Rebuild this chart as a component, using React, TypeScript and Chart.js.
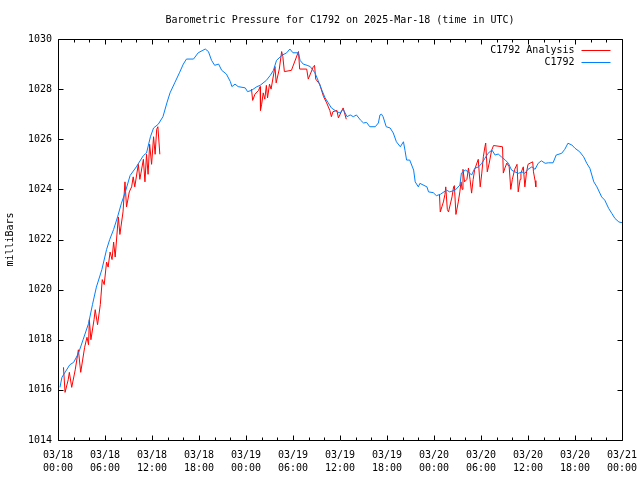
import React, { useEffect, useRef } from "react";
import { Chart, registerables } from "chart.js";

Chart.register(...registerables);

const TITLE = "Barometric Pressure for C1792 on 2025-Mar-18 (time in UTC)";
const Y_AXIS_LABEL = "milliBars";
const SERIES_NAMES = ["C1792 Analysis", "C1792"];
const SERIES_COLORS = ["#ff0000", "#0080ff"];

const X_TICK_DATES = ["03/18", "03/18", "03/18", "03/18", "03/19", "03/19", "03/19", "03/19", "03/20", "03/20", "03/20", "03/20", "03/21"];
const X_TICK_TIMES = ["00:00", "06:00", "12:00", "18:00", "00:00", "06:00", "12:00", "18:00", "00:00", "06:00", "12:00", "18:00", "00:00"];
const Y_TICK_LABELS = ["1014", "1016", "1018", "1020", "1022", "1024", "1026", "1028", "1030"];

// hours since 2025-03-18 00:00 UTC
const stationHours = [
  0.25, 0.5, 1.0, 1.5, 2.0, 2.6, 3.2, 3.9, 4.4, 4.9, 5.6, 6.2, 6.6, 7.1, 7.6, 8.1, 8.6, 9.2, 10.0, 10.9,
  11.3, 11.8, 12.2, 12.8, 13.4, 13.9, 14.3, 14.9, 15.5, 16.0, 16.4, 17.3, 17.9, 18.5, 18.8, 19.2, 19.6, 20.0, 20.5, 20.9,
  21.5, 22.0, 22.2, 22.6, 23.0, 23.9, 24.2, 24.7, 25.4, 25.8, 26.6, 27.1, 27.5, 27.9, 28.6, 29.2, 29.6, 30.0, 30.7, 30.9,
  31.3, 31.8, 32.2, 32.8, 33.2, 33.7, 34.1, 34.5, 34.9, 35.6, 36.0, 36.4, 36.9, 37.3, 37.7, 38.1, 38.6, 39.0, 39.4, 39.8,
  40.5, 40.9, 41.1, 41.3, 41.5, 41.9, 42.4, 42.8, 43.2, 43.7, 44.1, 44.3, 44.5, 44.9, 45.4, 45.6, 46.0, 46.2, 47.1, 47.3,
  47.9, 48.3, 48.8, 49.6, 50.0, 50.7, 51.3, 51.5, 52.0, 52.4, 52.8, 53.2, 53.7, 54.1, 54.5, 54.9, 55.4, 55.8, 56.2, 56.6,
  57.1, 57.5, 57.9, 58.3, 58.8, 59.2, 59.6, 60.0, 60.5, 60.9, 61.3, 61.7, 62.2, 62.6, 63.2, 63.6, 64.3, 64.7, 65.1, 65.6,
  66.0, 66.6, 67.1, 67.5, 67.9, 68.4, 68.8, 69.4, 69.8, 70.3, 70.7, 71.1, 71.6, 72.0,
];
const stationValues = [
  1016.1, 1016.5, 1016.75, 1017.0, 1017.1, 1017.45, 1018.0, 1018.65, 1019.4, 1020.1, 1020.8, 1021.6, 1022.0, 1022.4, 1022.9, 1023.45, 1023.9, 1024.55, 1024.9, 1025.35,
  1025.45, 1026.1, 1026.45, 1026.6, 1026.9, 1027.45, 1027.85, 1028.25, 1028.65, 1029.0, 1029.2, 1029.2, 1029.45, 1029.55, 1029.6, 1029.5, 1029.15, 1028.95, 1029.0, 1028.75,
  1028.6, 1028.3, 1028.1, 1028.2, 1028.1, 1028.05, 1027.9, 1027.95, 1028.1, 1028.15, 1028.35, 1028.55, 1028.75, 1029.15, 1029.35, 1029.45, 1029.6, 1029.45, 1029.45, 1029.15,
  1029.0, 1028.95, 1028.9, 1028.65, 1028.35, 1027.95, 1027.65, 1027.45, 1027.25, 1027.1, 1027.05, 1027.2, 1026.9, 1026.97, 1026.9, 1026.97, 1026.77, 1026.65, 1026.67, 1026.5,
  1026.5, 1026.65, 1026.97, 1027.0, 1026.9, 1026.5, 1026.45, 1026.25, 1025.9, 1025.7, 1025.9, 1025.55, 1025.17, 1025.17, 1024.77, 1024.3, 1024.1, 1024.24, 1024.1, 1023.9,
  1023.87, 1023.75, 1023.8, 1023.97, 1023.9, 1023.97, 1024.17, 1024.65, 1024.77, 1024.7, 1024.57, 1024.84, 1024.9, 1025.04, 1025.24, 1025.44, 1025.57, 1025.37, 1025.41, 1025.3,
  1025.17, 1025.04, 1024.77, 1024.7, 1024.64, 1024.7, 1024.64, 1024.8, 1024.9, 1024.8, 1025.04, 1025.14, 1025.04, 1025.06, 1025.06, 1025.37, 1025.44, 1025.6, 1025.84, 1025.77,
  1025.64, 1025.5, 1025.3, 1025.04, 1024.84, 1024.3, 1024.1, 1023.7, 1023.57, 1023.24, 1023.04, 1022.84, 1022.7, 1022.67,
];

// analysis series: three runs, separated by gaps (null)
const analysisHours = [
  0.7, 0.9, 1.3, 1.45, 1.75, 2.2, 2.6, 2.9, 3.4, 3.7, 3.9, 4.0, 4.2, 4.6, 4.75, 5.05, 5.4, 5.65, 5.9, 6.2,
  6.4, 6.65, 6.9, 7.1, 7.3, 7.7, 7.9, 8.3, 8.55, 8.75, 9.1, 9.4, 9.6, 9.8, 10.25, 10.45, 10.9, 11.1, 11.3, 11.5,
  11.7, 11.95, 12.2, 12.4, 12.6, 12.75, 13.0,
  18.0,
  24.7, 24.85, 25.15, 25.6, 25.8, 25.85, 26.0, 26.2, 26.4, 26.6, 26.75, 27.0, 27.2, 27.7, 27.85, 28.25, 28.55, 28.7, 28.9, 29.8,
  30.7, 30.85, 31.75, 31.95, 32.6, 32.75, 32.9, 33.4, 33.9, 34.3, 34.7, 34.9, 35.1, 35.6, 35.8, 36.4, 36.8,
  42.0,
  48.7, 48.8, 49.0, 49.2, 49.4, 49.5, 49.7, 49.85, 50.3, 50.5, 50.6, 50.8, 51.1, 51.3, 51.45, 51.6, 51.7, 51.9, 52.2, 52.4,
  52.6, 52.8, 53.0, 53.2, 53.65, 53.9, 54.1, 54.3, 54.5, 54.6, 54.8, 55.05, 55.35, 55.6, 56.75, 56.85, 57.05, 57.3, 57.6, 57.8,
  58.0, 58.3, 58.6, 58.75, 59.0, 59.1, 59.4, 59.6, 59.8, 60.0, 60.6, 60.7, 60.9, 61.0,
];
const analysisValues = [
  1016.9, 1015.9, 1016.4, 1016.7, 1016.1, 1016.8, 1017.6, 1016.7, 1017.7, 1018.1, 1017.8, 1018.8, 1018.0, 1018.8, 1019.2, 1018.6, 1019.4, 1020.4, 1020.2, 1021.1,
  1020.9, 1021.5, 1021.2, 1021.9, 1021.3, 1022.9, 1022.2, 1023.1, 1024.3, 1023.3, 1023.9, 1024.1, 1024.5, 1024.1, 1025.0, 1024.4, 1025.2, 1024.3, 1025.4, 1024.6,
  1025.8, 1025.0, 1026.1, 1025.4, 1026.4, 1026.5, 1025.4,
  null,
  1028.0, 1027.55, 1027.8, 1027.95, 1028.1, 1027.15, 1027.4, 1027.85, 1027.6, 1028.15, 1027.65, 1028.2, 1028.0, 1028.9, 1028.25, 1028.8, 1029.5, 1029.3, 1028.7, 1028.75,
  1029.5, 1028.8, 1028.8, 1028.4, 1028.9, 1028.95, 1028.4, 1028.2, 1027.7, 1027.45, 1027.15, 1026.9, 1027.1, 1027.15, 1026.85, 1027.25, 1026.8,
  null,
  1023.8, 1023.1, 1023.3, 1023.5, 1023.8, 1024.1, 1023.2, 1023.1, 1023.7, 1024.1, 1024.15, 1023.0, 1023.5, 1023.9, 1024.3, 1024.0, 1024.8, 1024.3, 1024.4, 1024.85,
  1024.4, 1023.85, 1024.4, 1024.8, 1025.2, 1024.1, 1024.65, 1025.3, 1025.7, 1025.85, 1024.7, 1025.05, 1025.55, 1025.75, 1025.7, 1024.65, 1024.85, 1025.05, 1024.9, 1024.0,
  1024.4, 1024.8, 1025.0, 1023.9, 1024.4, 1024.65, 1024.9, 1024.1, 1024.65, 1025.0, 1025.1, 1024.7, 1024.35, 1024.1,
];

const FONT = '"DejaVu Sans Mono", monospace';

const framePlugin = {
  id: "gnuframe",
  afterDatasetsDraw(chart: any) {
    const { ctx, chartArea: a, scales } = chart;
    const L = Math.round(a.left) + 0.5;
    const R = Math.round(a.right) + 0.5;
    const T = Math.round(a.top) + 0.5;
    const B = Math.round(a.bottom) + 0.5;
    ctx.save();
    ctx.strokeStyle = "#000";
    ctx.lineWidth = 1;
    ctx.beginPath();
    ctx.rect(L, T, R - L, B - T);
    // x tics (major every 6 h, minor every 2 h)
    const xs = scales.x;
    for (let h = xs.min; h <= xs.max; h += 2) {
      const px = Math.round(xs.getPixelForValue(h)) + 0.5;
      const len = h % 6 === 0 ? 5 : 3;
      ctx.moveTo(px, B);
      ctx.lineTo(px, B - len);
      ctx.moveTo(px, T);
      ctx.lineTo(px, T + len);
    }
    const ys = scales.y;
    ys.ticks.forEach((t: any) => {
      const py = Math.round(ys.getPixelForValue(t.value)) + 0.5;
      ctx.moveTo(L, py);
      ctx.lineTo(L + 5, py);
      ctx.moveTo(R, py);
      ctx.lineTo(R - 5, py);
    });
    ctx.stroke();

    // title
    ctx.fillStyle = "#000";
    ctx.font = "10px " + FONT;
    ctx.textAlign = "center";
    ctx.textBaseline = "middle";
    ctx.fillText(TITLE, (a.left + a.right) / 2, 20);

    // key (legend) inside top-right
    const keyRight = R - 48;
    const rows = [50, 62];
    SERIES_NAMES.forEach((name, i) => {
      ctx.textAlign = "right";
      ctx.fillStyle = "#000";
      ctx.fillText(name, keyRight, rows[i]);
      ctx.strokeStyle = SERIES_COLORS[i];
      ctx.beginPath();
      ctx.moveTo(keyRight + 7, rows[i] + 0.5);
      ctx.lineTo(keyRight + 36, rows[i] + 0.5);
      ctx.stroke();
    });
    ctx.restore();
  },
};

export default function App() {
  const ref = useRef<HTMLCanvasElement | null>(null);

  useEffect(() => {
    document.body.style.margin = "0";
    const canvas = ref.current;
    if (!canvas) return;

    const stationData = stationHours.map((h, i) => ({ x: h, y: stationValues[i] }));
    const analysisData = analysisHours.map((h, i) => ({ x: h, y: analysisValues[i] }));

    const chart = new Chart(canvas, {
      type: "line",
      data: {
        datasets: [
          {
            label: SERIES_NAMES[1],
            data: stationData,
            borderColor: SERIES_COLORS[1],
            borderWidth: 1,
            pointRadius: 0,
            tension: 0,
            fill: false,
          },
          {
            label: SERIES_NAMES[0],
            data: analysisData,
            borderColor: SERIES_COLORS[0],
            borderWidth: 1,
            pointRadius: 0,
            tension: 0,
            fill: false,
            spanGaps: false,
          },
        ],
      },
      options: {
        responsive: false,
        animation: false,
        devicePixelRatio: 1,
        layout: { padding: { left: 0, right: 18, top: 39, bottom: 0 } },
        plugins: {
          legend: { display: false },
          title: { display: false },
          tooltip: { enabled: false },
        },
        scales: {
          x: {
            type: "linear",
            min: 0,
            max: 72,
            grid: { display: false, drawTicks: false },
            border: { display: false },
            ticks: {
              stepSize: 6,
              autoSkip: false,
              maxRotation: 0,
              minRotation: 0,
              padding: 9,
              color: "#000",
              font: { family: FONT, size: 10, lineHeight: 1.3 },
              callback: (_v: any, i: number) => [X_TICK_DATES[i], X_TICK_TIMES[i]],
            },
            afterFit: (s: any) => {
              s.height = 40;
              s.paddingLeft = 0;
              s.paddingRight = 0;
            },
          },
          y: {
            type: "linear",
            min: 1014,
            max: 1030,
            grid: { display: false, drawTicks: false },
            border: { display: false },
            title: {
              display: true,
              text: Y_AXIS_LABEL,
              color: "#000",
              font: { family: FONT, size: 10, lineHeight: 1.2 },
              padding: { top: 4, bottom: 0 },
            },
            ticks: {
              stepSize: 2,
              padding: 6,
              color: "#000",
              font: { family: FONT, size: 10 },
              callback: (_v: any, i: number) => Y_TICK_LABELS[i],
            },
            afterFit: (s: any) => {
              s.width = 58;
              s.paddingTop = 0;
              s.paddingBottom = 0;
            },
          },
        },
      },
      plugins: [framePlugin],
    });

    return () => chart.destroy();
  }, []);

  return (
    <div style={{ width: 640, height: 480, background: "#fff" }}>
      <canvas ref={ref} width={640} height={480} style={{ display: "block" }} />
    </div>
  );
}
